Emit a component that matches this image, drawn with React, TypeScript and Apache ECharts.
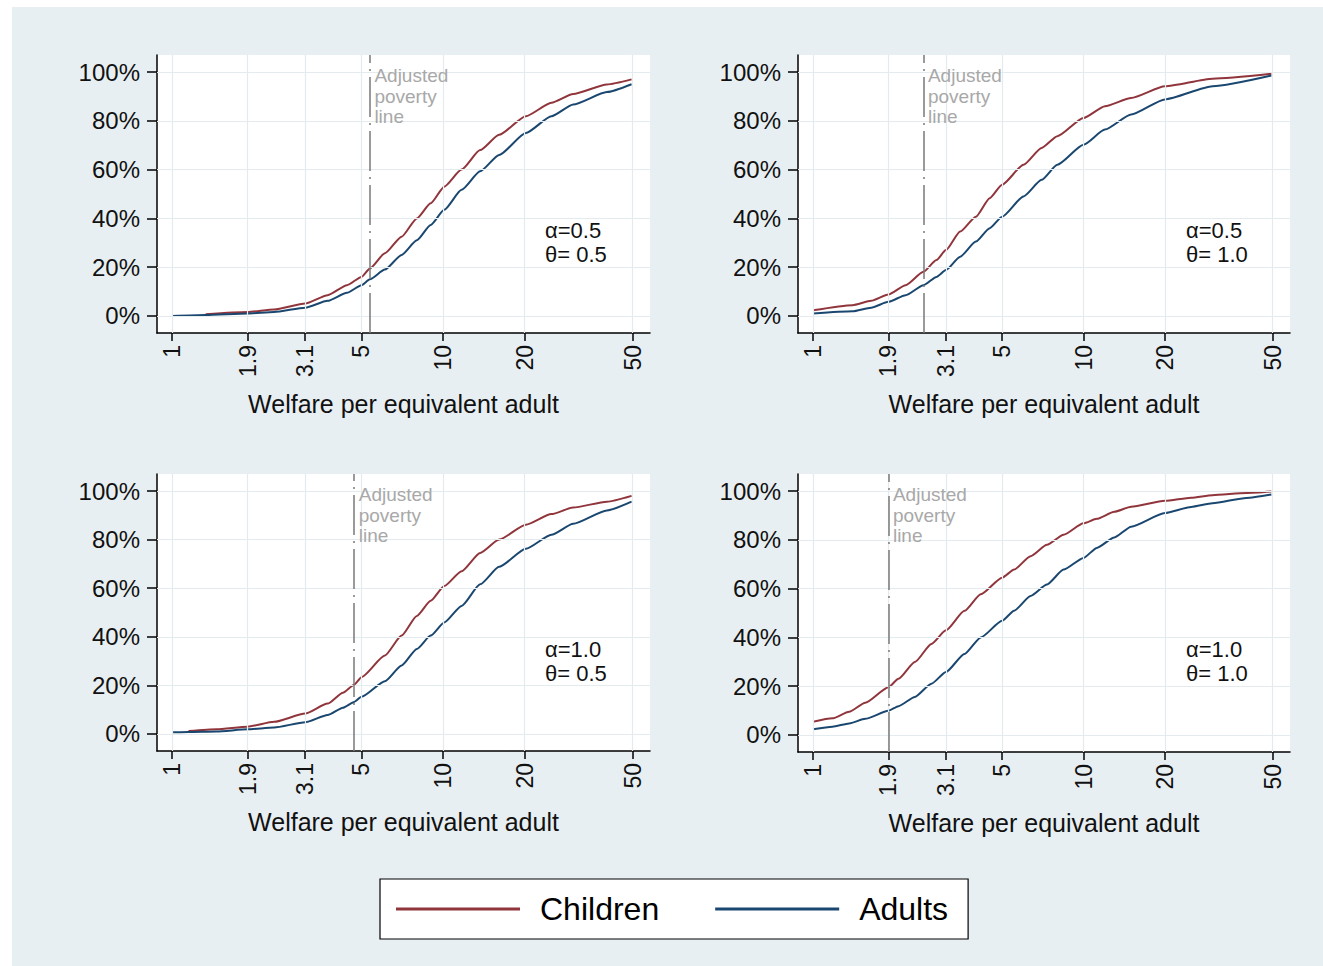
import React, { useEffect, useRef } from 'react';
import * as echarts from 'echarts';

// Axis ticks
const xTicks = [1, 1.9, 3.1, 5, 10, 20, 50];
const yTicks = [0, 20, 40, 60, 80, 100];

// Panel 1: alpha=0.5, theta=0.5
const welfare1 = [1, 1.33, 1.9, 2.38, 3.1, 3.75, 4.42, 5, 5.37, 6.1, 7.03, 8, 9, 10.1, 11.7, 13.7, 16.1, 20.2, 25.1, 30.2, 40.2, 49.6];
const children1 = [null, 0.7, 1.6, 2.6, 5.1, 8.5, 12.6, 16, 19.5, 25.7, 32.5, 40, 46.2, 53, 60, 68, 74.3, 81.9, 87.4, 91, 94.9, 97];
const adults1 = [0, 0.4, 1, 1.6, 3.4, 6.2, 9.5, 12.6, 15, 19, 25, 31, 37.3, 43.5, 51.7, 59.3, 66, 75, 81.9, 86.7, 91.8, 95];

// Panel 2: alpha=0.5, theta=1.0
const welfare2 = [1, 1.4, 1.64, 1.9, 2.2, 2.56, 2.86, 3.1, 3.5, 4, 4.5, 5, 6, 7, 8, 10, 12, 15, 20, 30, 49.5];
const children2 = [2.3, 4.4, 6.2, 8.8, 12.6, 18.1, 22.9, 27, 34.6, 40.7, 48.3, 53.8, 62, 68.9, 73.7, 81.2, 86, 89.4, 94.2, 97.3, 99.3];
const adults2 = [1, 1.9, 3.4, 5.8, 8.5, 12.6, 16, 18.8, 24.3, 30.5, 36, 40.7, 49, 55.8, 62, 70.2, 76.4, 82.6, 88.8, 94.2, 98.6];

// Panel 3: alpha=1.0, theta=0.5
const welfare3 = [1, 1.15, 1.46, 1.9, 2.38, 3.1, 3.75, 4.27, 4.7, 5, 6.1, 7.03, 8, 9, 10.1, 11.7, 13.7, 16.1, 20.2, 25.1, 30.2, 40.2, 49.6];
const children3 = [null, 1.2, 2, 3, 5, 8.4, 12.5, 17, 20.3, 23.4, 32.3, 40.5, 48.6, 54.8, 60.9, 67, 74.5, 80, 86.1, 90.5, 93.2, 95.6, 98];
const adults3 = [0.7, 0.8, 1, 1.9, 2.7, 4.8, 7.8, 10.8, 13.2, 15.3, 21.7, 28.2, 35, 40.5, 45.9, 52.7, 61.6, 68.8, 76.2, 82, 86.5, 92, 95.6];

// Panel 4: alpha=1.0, theta=1.0
const welfare4 = [1, 1.18, 1.36, 1.56, 1.9, 2.07, 2.38, 2.74, 3.1, 3.63, 4.17, 5, 5.54, 6.37, 7.33, 8.44, 10, 11.2, 13, 15, 20, 25, 30, 40, 49.5];
const children4 = [5.4, 6.8, 9.5, 13.2, 19.6, 23, 29.9, 37.3, 42.9, 50.9, 57.7, 64.5, 67.8, 73.3, 78, 82.1, 86.8, 88.6, 91.5, 93.6, 96, 97.3, 98.3, 99.2, 99.8];
const adults4 = [2.3, 3.4, 4.7, 6.6, 9.9, 11.8, 15.6, 21, 25.8, 33.2, 40, 46.8, 50.9, 57, 61.7, 67.8, 72.6, 76.7, 81, 85.4, 91, 93.5, 95, 97.2, 98.6];

const povertyLines = [5.37, 2.56, 4.7, 1.9];
const alphaLabels = ['α=0.5', 'α=0.5', 'α=1.0', 'α=1.0'];
const thetaLabels = ['θ= 0.5', 'θ= 1.0', 'θ= 0.5', 'θ= 1.0'];
const axisTitle = 'Welfare per equivalent adult';
const seriesNames = ['Children', 'Adults'];

const panels = [
  { welfare: welfare1, children: children1, adults: adults1 },
  { welfare: welfare2, children: children2, adults: adults2 },
  { welfare: welfare3, children: children3, adults: adults3 },
  { welfare: welfare4, children: children4, adults: adults4 },
];

const RED = '#90353b';
const BLUE = '#1a476f';
const FONT = '"Liberation Sans", Arial, sans-serif';

const gridBoxes = [
  { left: 145, top: 48, width: 493, height: 278 },
  { left: 786, top: 48, width: 492, height: 278 },
  { left: 145, top: 467, width: 493, height: 277 },
  { left: 786, top: 467, width: 492, height: 278 },
];

function zip(xs: number[], ys: (number | null)[]) {
  const out: number[][] = [];
  xs.forEach((x, i) => {
    const y = ys[i];
    if (y !== null && y !== undefined) out.push([x, y]);
  });
  return out;
}

export default function App() {
  const ref = useRef<HTMLDivElement>(null);
  useEffect(() => {
    if (!ref.current) return;
    const chart = echarts.init(ref.current, undefined, { renderer: 'svg' });

    const grid = gridBoxes.map((g) => ({
      ...g,
      show: true,
      backgroundColor: '#ffffff',
      borderWidth: 0,
      containLabel: false,
    }));

    const xAxis = gridBoxes.map((_, i) => ({
      type: 'log',
      logBase: 10,
      gridIndex: i,
      min: 0.88,
      max: 58,
      name: axisTitle,
      nameLocation: 'middle',
      nameGap: 58,
      nameTextStyle: { fontSize: 25, color: '#111', fontFamily: FONT },
      axisLine: { show: true, onZero: false, lineStyle: { color: '#000', width: 1.5 } },
      axisTick: { show: true, length: 8, customValues: xTicks, lineStyle: { color: '#000', width: 1.5 } },
      axisLabel: {
        show: true,
        rotate: 90,
        margin: 12,
        fontSize: 23,
        color: '#111',
        fontFamily: FONT,
        customValues: xTicks,
        formatter: (v: number) => String(Math.round(v * 100) / 100),
      },
      splitLine: { show: false },
    }));

    const yAxis = gridBoxes.map((_, i) => ({
      type: 'value',
      gridIndex: i,
      min: -7,
      max: 107,
      axisLine: { show: true, lineStyle: { color: '#000', width: 1.5 } },
      axisTick: { show: true, length: 10, customValues: yTicks, lineStyle: { color: '#000', width: 1.5 } },
      axisLabel: {
        show: true,
        margin: 17,
        fontSize: 24,
        color: '#111',
        fontFamily: FONT,
        customValues: yTicks,
        formatter: (v: number) => `${Math.round(v)}%`,
      },
      splitLine: { show: false },
    }));

    const series: any[] = [];
    panels.forEach((p, i) => {
      series.push({
        name: 'grid' + i,
        type: 'line',
        xAxisIndex: i,
        yAxisIndex: i,
        z: 1,
        data: [[1, 0]],
        symbol: 'none',
        lineStyle: { width: 0, opacity: 0 },
        silent: true,
        markLine: {
          silent: true,
          symbol: ['none', 'none'],
          label: { show: false },
          lineStyle: { color: '#e3ebee', width: 1.2, type: 'solid' },
          data: [
            ...xTicks.map((v) => ({ xAxis: v })),
            ...yTicks.map((v) => ({ yAxis: v })),
          ],
        },
      });
      series.push({
        name: seriesNames[0],
        type: 'line',
        xAxisIndex: i,
        yAxisIndex: i,
        z: 3,
        data: zip(p.welfare, p.children),
        symbol: 'none',
        smooth: 0.2,
        smoothMonotone: 'x',
        lineStyle: { color: RED, width: 2 },
        itemStyle: { color: RED },
        markLine: {
          silent: true,
          symbol: ['none', 'none'],
          label: { show: false },
          lineStyle: { color: '#7a7a7a', width: 1.5, type: [40, 6, 2, 6] },
          data: [{ xAxis: povertyLines[i] }],
        },
        markPoint: {
          silent: true,
          symbol: 'circle',
          symbolSize: 1,
          itemStyle: { color: 'rgba(0,0,0,0)' },
          data: [{ coord: [povertyLines[i], 90] }],
          label: {
            show: true,
            position: 'right',
            distance: 4,
            formatter: 'Adjusted\npoverty\nline',
            color: '#a8a8a8',
            fontSize: 19,
            lineHeight: 20.5,
            fontFamily: FONT,
            align: 'left',
          },
        },
      });
      series.push({
        name: seriesNames[1],
        type: 'line',
        xAxisIndex: i,
        yAxisIndex: i,
        z: 3,
        data: zip(p.welfare, p.adults),
        symbol: 'none',
        smooth: 0.2,
        smoothMonotone: 'x',
        lineStyle: { color: BLUE, width: 2 },
        itemStyle: { color: BLUE },
      });
    });

    const graphic: any[] = [];
    gridBoxes.forEach((g, i) => {
      graphic.push({
        type: 'text',
        left: g.left + 388,
        top: g.top + 164,
        z: 10,
        style: {
          text: alphaLabels[i],
          fontSize: 22,
          fontFamily: FONT,
          fill: '#111',
        },
      });
      graphic.push({
        type: 'text',
        left: g.left + 388,
        top: g.top + 188,
        z: 10,
        style: {
          text: thetaLabels[i],
          fontSize: 22,
          fontFamily: FONT,
          fill: '#111',
        },
      });
    });

    chart.setOption({
      animation: false,
      backgroundColor: 'transparent',
      textStyle: { fontFamily: FONT },
      grid,
      xAxis,
      yAxis,
      series,
      graphic,
      legend: {
        data: seriesNames,
        left: 368,
        top: 872,
        orient: 'horizontal',
        icon: 'rect',
        backgroundColor: '#ffffff',
        borderColor: '#000',
        borderWidth: 1.2,
        borderRadius: 0,
        padding: [14, 20, 14, 16],
        itemWidth: 124,
        itemHeight: 3,
        itemGap: 56,
        textStyle: { fontSize: 32, color: '#000', fontFamily: FONT, padding: [0, 0, 0, 15] },
        selectedMode: false,
      },
    });

    return () => chart.dispose();
  }, []);

  return (
    <div
      ref={ref}
      style={{
        position: 'absolute',
        left: 12,
        top: 7,
        width: 1311,
        height: 959,
        background: '#e8eff2',
      }}
    />
  );
}
